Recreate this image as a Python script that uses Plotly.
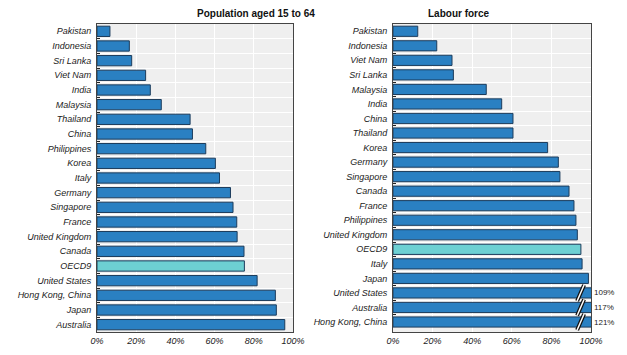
import plotly.graph_objects as go

# ---- data ----
pop_countries = ["Pakistan", "Indonesia", "Sri Lanka", "Viet Nam", "India", "Malaysia",
                 "Thailand", "China", "Philippines", "Korea", "Italy", "Germany",
                 "Singapore", "France", "United Kingdom", "Canada", "OECD9",
                 "United States", "Hong Kong, China", "Japan", "Australia"]
pop_values = [6.6, 16.5, 17.7, 24.8, 27.2, 32.8, 47.5, 48.7, 55.5, 60.4, 62.5, 68.1,
              69.4, 71.3, 71.5, 75.0, 75.2, 81.7, 91.0, 91.5, 95.8]

lab_countries = ["Pakistan", "Indonesia", "Viet Nam", "Sri Lanka", "Malaysia", "India",
                 "China", "Thailand", "Korea", "Germany", "Singapore", "Canada",
                 "France", "Philippines", "United Kingdom", "OECD9", "Italy", "Japan",
                 "United States", "Australia", "Hong Kong, China"]
lab_values = [12.5, 22.1, 29.8, 30.5, 47.1, 54.9, 60.6, 60.6, 78.1, 83.5, 84.3, 88.9,
              91.4, 92.4, 93.1, 94.9, 95.5, 98.7, 109, 117, 121]

x_ticks = [0, 20, 40, 60, 80, 100]
x_tick_labels = ["0%", "20%", "40%", "60%", "80%", "100%"]
titles = ["Population aged 15 to 64", "Labour force"]
highlight = "OECD9"

BLUE = "#2a80c2"
TEAL = "#6dd0d3"
EDGE = "#1c3c5c"
FONT = "Liberation Sans Narrow, Arial Narrow, Liberation Sans, Arial, sans-serif"

# page is offset by the body margin (8px); figure sized to fill the window
W, H = 619, 347
OFF = 8


def px_x(p):
    return (p - OFF) / W


def px_y(p):
    return 1 - (p - OFF) / H


fig = go.Figure()

panels = [(pop_countries, pop_values, "x", "y"), (lab_countries, lab_values, "x2", "y2")]
for countries, values, xa, ya in panels:
    colors = [TEAL if c == highlight else BLUE for c in countries]
    fig.add_trace(go.Bar(
        x=values, y=countries, orientation="h", xaxis=xa, yaxis=ya,
        marker=dict(color=colors, line=dict(color=EDGE, width=1)),
        showlegend=False, hoverinfo="x+y"))

# break marks and labels for values beyond the axis
for i, (c, v) in enumerate(zip(lab_countries, lab_values)):
    if v > 100:
        for w, col in [(4, "#111111"), (1.5, "white")]:
            fig.add_shape(type="line", xref="x2", yref="y2",
                          x0=93.0, x1=96.5, y0=i + 0.55, y1=i - 0.55,
                          line=dict(color=col, width=w), layer="above")
        fig.add_annotation(x=100, y=c, xref="x2", yref="y2", text=f"{v:.0f}%",
                           showarrow=False, xanchor="left", xshift=1,
                           font=dict(family=FONT, size=8, color="#222"))

axis_common = dict(range=[0, 100], tickvals=x_ticks, ticktext=x_tick_labels,
                   showgrid=True, gridcolor="white", gridwidth=1,
                   showline=True, mirror=True, linecolor="#444", linewidth=1,
                   ticks="", zeroline=False, fixedrange=True, automargin=False,
                   tickfont=dict(family=FONT, size=9, color="#222", style="italic"))
yaxis_common = dict(autorange="reversed", type="category", showgrid=True,
                    gridcolor="white", gridwidth=1, tickson="boundaries",
                    ticks="inside", ticklen=3, tickcolor="#222", automargin=False,
                    showline=True, mirror=True, linecolor="#444", linewidth=1,
                    tickfont=dict(family=FONT, size=9, color="#222", style="italic"),
                    ticklabelstandoff=3)

L1, R1 = px_x(97), px_x(293)
L2, R2 = px_x(393), px_x(591)
B, T = px_y(332), px_y(24)

fig.update_layout(
    width=W, height=H,
    margin=dict(l=0, r=0, t=0, b=0, autoexpand=False),
    paper_bgcolor="white", plot_bgcolor="#efefef",
    bargap=0.3,
    xaxis=dict(domain=[L1, R1], anchor="y", **axis_common),
    xaxis2=dict(domain=[L2, R2], anchor="y2", **axis_common),
    yaxis=dict(domain=[B, T], anchor="x", **yaxis_common),
    yaxis2=dict(domain=[B, T], anchor="x2", **yaxis_common),
    font=dict(family=FONT),
)

for t, xa in zip(titles, [(L1 + R1) / 2, (L2 + R2) / 2]):
    fig.add_annotation(x=xa, y=px_y(13.5), xref="paper", yref="paper",
                       text=f"<b>{t}</b>", showarrow=False, yanchor="middle",
                       font=dict(family=FONT, size=10, color="#111"))

fig.write_html("out.html")
